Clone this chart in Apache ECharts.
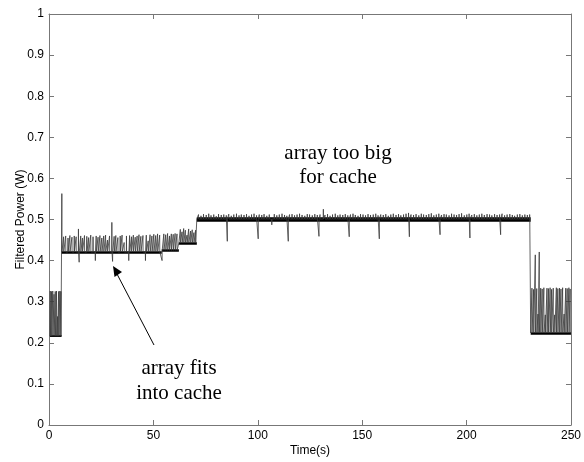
<!DOCTYPE html>
<html>
<head>
<meta charset="utf-8">
<script src="https://cdn.jsdelivr.net/npm/echarts@6/dist/echarts.min.js"></script>
<style>html,body{margin:0;padding:0;background:#fff}#c{width:584px;height:462px}</style>
</head>
<body>
<div id="c"></div>
<script>
// ---- data ----
// power levels: [start time, end time, level]
const levels = [
  [0.45, 6.0, 0.216],
  [6.0, 54.0, 0.421],
  [54.0, 62.2, 0.425],
  [62.2, 70.8, 0.443],
  [70.8, 230.7, 0.501],
  [230.7, 250, 0.224]
];
// spikes / dips: [time, value]
const spikesA = [[0.6,0.326],[1.2,0.325],[1.8,0.326],[2.4,0.318],[3.0,0.325],[3.6,0.326],[4.1,0.264],[4.6,0.325],[5.2,0.326],[5.7,0.325]];
const spikesB = [[6.15,0.563],[7.0,0.458],[8.0,0.46],[9.1,0.455],[10.0,0.461],[11.0,0.457],[12.1,0.46],[13.0,0.458],[14.1,0.477],[14.45,0.396],[15.2,0.46],[16.0,0.455],[17.0,0.461],[18.1,0.459],[19.0,0.456],[20.0,0.462],[21.1,0.458],[22.2,0.40],[22.6,0.46],[23.5,0.457],[24.4,0.461],[25.3,0.455],[26.2,0.46],[27.1,0.462],[28.0,0.45],[29.0,0.46],[30.1,0.493],[30.45,0.398],[31.2,0.459],[32.0,0.461],[33.0,0.456],[34.1,0.46],[35.0,0.462],[36.0,0.444],[37.1,0.46],[38.2,0.40],[38.6,0.461],[39.5,0.458],[40.4,0.462],[41.3,0.457],[42.2,0.46],[43.1,0.463],[44.0,0.459],[45.0,0.461],[46.2,0.40],[46.6,0.462],[47.5,0.448],[48.4,0.463],[49.3,0.46],[50.2,0.464],[51.1,0.461],[52.0,0.465],[53.0,0.462],[54.15,0.40],[55.0,0.465],[55.9,0.463],[56.8,0.466],[57.7,0.46],[58.6,0.465],[59.5,0.464],[60.4,0.466],[61.3,0.465]];
const spikesC = [[62.9,0.476],[63.7,0.47],[64.5,0.478],[65.3,0.474],[66.1,0.462],[66.9,0.477],[67.8,0.472],[68.6,0.475],[69.4,0.468],[70.2,0.474]];
const spikesD = [[71.6,0.512],[72.8,0.509],[74.0,0.513],[75.3,0.511],[76.5,0.514],[77.6,0.51],[78.9,0.512],[80.1,0.508],[81.2,0.513],[82.5,0.511],[83.7,0.512],[84.9,0.51],[85.4,0.447],[86.1,0.513],[87.3,0.509],[88.5,0.512],[89.8,0.514],[91.0,0.51],[92.1,0.512],[93.4,0.511],[94.6,0.513],[95.8,0.509],[97.0,0.512],[98.2,0.514],[99.4,0.51],[100.2,0.453],[100.7,0.512],[101.9,0.511],[103.0,0.513],[104.3,0.509],[105.5,0.512],[106.7,0.487],[107.9,0.513],[109.1,0.51],[110.3,0.512],[111.6,0.514],[112.8,0.511],[113.9,0.509],[114.6,0.447],[115.2,0.512],[116.4,0.513],[117.6,0.51],[118.8,0.512],[120.0,0.514],[121.2,0.511],[122.5,0.509],[123.7,0.513],[124.8,0.512],[126.1,0.51],[127.3,0.513],[128.5,0.511],[129.3,0.459],[129.8,0.512],[131.4,0.525],[132.2,0.511],[133.4,0.513],[134.6,0.509],[135.8,0.512],[137.1,0.514],[138.3,0.51],[139.4,0.512],[140.7,0.511],[141.9,0.513],[143.1,0.51],[143.8,0.458],[144.4,0.512],[145.6,0.514],[146.7,0.511],[148.0,0.509],[149.2,0.513],[150.4,0.512],[151.6,0.51],[152.8,0.513],[154.0,0.511],[155.3,0.512],[156.5,0.514],[157.6,0.51],[158.2,0.453],[158.9,0.512],[160.1,0.511],[161.3,0.513],[162.5,0.509],[163.7,0.512],[164.9,0.514],[166.2,0.511],[167.4,0.513],[168.5,0.51],[169.8,0.512],[171.0,0.514],[172.2,0.516],[172.6,0.458],[173.4,0.512],[174.6,0.511],[175.8,0.513],[177.1,0.51],[178.3,0.514],[179.4,0.512],[180.7,0.511],[181.9,0.513],[183.1,0.515],[184.3,0.51],[185.5,0.512],[186.7,0.514],[187.3,0.463],[188.0,0.511],[189.2,0.513],[190.3,0.512],[191.6,0.51],[192.8,0.514],[194.0,0.512],[195.2,0.511],[196.4,0.513],[197.6,0.515],[198.9,0.51],[200.1,0.512],[201.2,0.514],[201.6,0.455],[202.5,0.511],[203.7,0.513],[204.9,0.51],[206.1,0.512],[207.3,0.514],[208.5,0.511],[209.8,0.513],[211.0,0.512],[212.1,0.51],[213.4,0.513],[214.6,0.511],[215.8,0.512],[216.3,0.463],[217.0,0.514],[218.2,0.51],[219.4,0.512],[220.7,0.513],[221.9,0.511],[223.0,0.509],[224.3,0.512],[225.5,0.513],[226.7,0.51],[227.9,0.512],[229.1,0.511],[230.2,0.512]];
const spikesE = [[231.3,0.333],[232.1,0.33],[232.9,0.414],[233.6,0.332],[234.2,0.27],[234.8,0.421],[235.5,0.333],[236.2,0.331],[237.0,0.334],[237.7,0.268],[238.5,0.333],[239.2,0.332],[240.0,0.334],[240.7,0.33],[241.5,0.333],[242.2,0.268],[243.0,0.334],[243.7,0.332],[244.5,0.333],[245.2,0.331],[246.0,0.334],[246.7,0.27],[247.5,0.333],[248.2,0.332],[249.0,0.334],[249.6,0.331]];

// ---- build series data ----
const events = [].concat(spikesA, spikesB, spikesC, spikesD, spikesE);
const signal = [];
levels.forEach(([s, e, b]) => {
  const ev = events.filter(p => p[0] >= s && p[0] < e).sort((a, c) => a[0] - c[0]);
  signal.push([s, b]);
  ev.forEach(([t, v]) => { signal.push([t - 0.06, b], [t, v], [t + 0.06, b]); });
  signal.push([e, b]);
});
const baseWidths = [2, 2.5, 2.5, 2.5, 4.5, 2.5];
const baseLines = levels.map(([s, e, b], i) => ({coords: [[s, b], [e, b]], lineStyle: {width: baseWidths[i]}}));

const axisGrey = '#777';
const labelFont = 'Liberation Sans, Arial, sans-serif';
const serif = '21px "Liberation Serif", "Times New Roman", serif';
const chart = echarts.init(document.getElementById('c'), null, {renderer: 'canvas'});
chart.setOption({
  animation: false,
  backgroundColor: '#fff',
  grid: {left: 49, right: 13, top: 14, bottom: 30, containLabel: false},
  xAxis: [
    {type: 'value', min: 0, max: 250, interval: 50, position: 'bottom',
     axisLine: {show: true, onZero: false, lineStyle: {color: axisGrey, width: 1}},
     axisTick: {show: true, inside: true, length: 5, lineStyle: {color: axisGrey}},
     axisLabel: {color: '#000', fontSize: 12, margin: 5, fontFamily: labelFont},
     splitLine: {show: false},
     name: 'Time(s)', nameLocation: 'middle', nameGap: 20, nameMoveOverlap: false,
     nameTextStyle: {color: '#000', fontSize: 12, fontFamily: labelFont}},
    {type: 'value', min: 0, max: 250, interval: 50, position: 'top',
     axisLine: {show: true, onZero: false, lineStyle: {color: axisGrey, width: 1}},
     axisTick: {show: true, inside: true, length: 5, lineStyle: {color: axisGrey}},
     axisLabel: {show: false}, splitLine: {show: false}}
  ],
  yAxis: [
    {type: 'value', min: 0, max: 1, interval: 0.1, position: 'left',
     axisLine: {show: true, onZero: false, lineStyle: {color: axisGrey, width: 1}},
     axisTick: {show: true, inside: true, length: 5, lineStyle: {color: axisGrey}},
     axisLabel: {color: '#000', fontSize: 12, margin: 5, fontFamily: labelFont},
     splitLine: {show: false},
     name: 'Filtered Power (W)', nameLocation: 'middle', nameGap: 22, nameMoveOverlap: false,
     nameTextStyle: {color: '#000', fontSize: 12, fontFamily: labelFont}},
    {type: 'value', min: 0, max: 1, interval: 0.1, position: 'right',
     axisLine: {show: true, onZero: false, lineStyle: {color: axisGrey, width: 1}},
     axisTick: {show: true, inside: true, length: 5, lineStyle: {color: axisGrey}},
     axisLabel: {show: false}, splitLine: {show: false}}
  ],
  series: [
    {type: 'line', xAxisIndex: 0, yAxisIndex: 0, data: signal, symbol: 'none',
     lineStyle: {color: '#3a3a3a', width: 0.8}, silent: true},
    {type: 'lines', coordinateSystem: 'cartesian2d', xAxisIndex: 0, yAxisIndex: 0,
     data: baseLines, lineStyle: {color: '#000', opacity: 1}, silent: true}
  ],
  graphic: [
    {type: 'text', x: 338, y: 153, style: {text: 'array too big', font: serif, fill: '#000', align: 'center', verticalAlign: 'middle'}},
    {type: 'text', x: 338, y: 177, style: {text: 'for cache', font: serif, fill: '#000', align: 'center', verticalAlign: 'middle'}},
    {type: 'text', x: 179, y: 368, style: {text: 'array fits', font: serif, fill: '#000', align: 'center', verticalAlign: 'middle'}},
    {type: 'text', x: 179, y: 393, style: {text: 'into cache', font: serif, fill: '#000', align: 'center', verticalAlign: 'middle'}},
    {type: 'line', shape: {x1: 154, y1: 345, x2: 117, y2: 274}, style: {stroke: '#000', lineWidth: 1}},
    {type: 'polygon', shape: {points: [[113, 266], [122, 272], [114.5, 277]]}, style: {fill: '#000'}}
  ]
});
</script>
</body>
</html>
